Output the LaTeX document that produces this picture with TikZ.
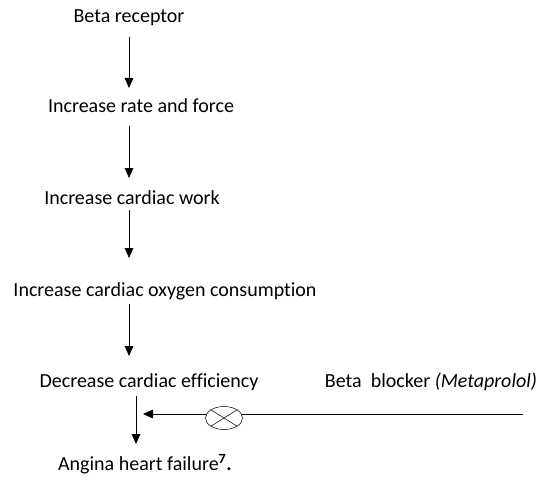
\documentclass[tikz,border=0pt]{standalone}
\usepackage{fontspec}
\setmainfont[Ligatures=NoCommon]{Carlito}
\usetikzlibrary{arrows.meta,shapes.geometric}
\begin{document}
\begin{tikzpicture}[x=0.75pt,y=-0.75pt,font=\fontsize{15}{18}\selectfont,
  stage/.style={inner sep=0pt,anchor=base},
  flow/.style={-{Triangle[length=7.5pt,width=6.5pt]},line width=0.6pt}]
\useasboundingbox (0,0) rectangle (546,485);
\node[stage] (rec) at (129,23) {Beta receptor};
\node[stage] (rate) at (141,113) {Increase rate and force};
\node[stage] (work) at (132,204) {Increase cardiac work};
\node[stage] (oxy) at (165,296) {Increase cardiac oxygen consumption};
\node[stage] (eff) at (149,387) {Decrease cardiac efficiency};
\node[stage] (fail) at (145,470) {Angina heart failure\textsuperscript{\textbf{7}}\textbf{.}};
\node[stage] (blk) at (431,387) {Beta\ \ blocker \textit{(Metaprolol)}};
\draw[flow] (rec.base) ++(0,14) -- ++(0,51);
\draw[flow] (rate.base) ++(-12,13) -- ++(0,52);
\draw[flow] (work.base) ++(-3,6) -- ++(0,48);
\draw[flow] (oxy.base) ++(-36,8) -- ++(0,52);
\draw[flow] (eff.base) ++(-13,9) -- ++(0,48);
% inhibition
\node[draw,ellipse,inner sep=0pt,
  minimum width=27.75pt,minimum height=17.25pt,line width=0.4pt] (stop) at (224,418) {};
\draw[line width=0.4pt] (stop.north east) -- (stop.south west)
  (stop.north west) -- (stop.south east);
\coordinate (tip) at (143,414);
\coordinate (from) at (523,414);
\draw[line width=0.6pt] (from) -- (from -| stop.13);
\draw[flow] (tip -| stop.167) -- (tip);
\end{tikzpicture}
\end{document}
